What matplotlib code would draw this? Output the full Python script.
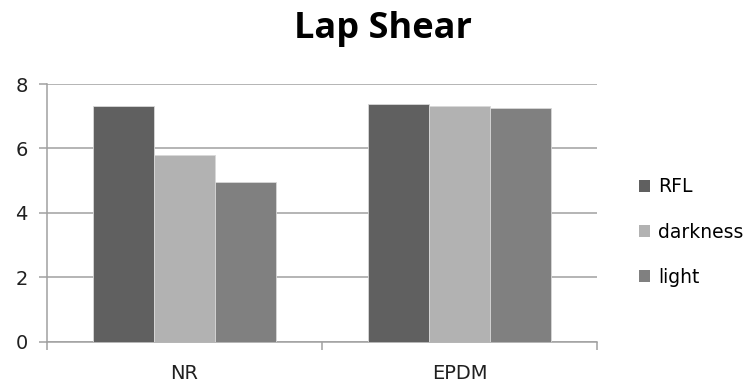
import matplotlib
matplotlib.use("Agg")
import matplotlib.pyplot as plt
import numpy as np
from matplotlib.patches import Patch

categories = ["NR", "EPDM"]
series_names = ["RFL", "darkness", "light"]
rfl = [7.32, 7.38]
darkness = [5.79, 7.32]
light = [4.97, 7.26]
colors = ["#606060", "#b2b2b2", "#808080"]
yticks = [0, 2, 4, 6, 8]

plt.rcParams["font.family"] = ["DejaVu Sans"]

fig = plt.figure(figsize=(7.51, 3.85), dpi=100)
ax = fig.add_axes([47 / 751, 1 - 341.7 / 385, 550 / 751, (341.7 - 84) / 385])

x = np.arange(len(categories))
w = 0.222
for i, (vals, name, c) in enumerate(zip([rfl, darkness, light], series_names, colors)):
    ax.bar(x + (i - 1) * w, vals, width=w, color=c, edgecolor="#d8d8d8",
           linewidth=0.6, label=name, zorder=3)

ax.set_xlim(-0.5, 1.5)
ax.set_ylim(0, 8)
ax.set_yticks(yticks)
ax.set_yticklabels([str(t) for t in yticks], fontsize=14, color="#202020")
ax.yaxis.grid(True, color="#a0a0a0", linewidth=1.1, zorder=0)
ax.tick_params(axis="y", length=6, width=1.1, color="#a0a0a0", pad=8)

ax.set_xticks(x)
ax.set_xticklabels(categories, fontsize=14, color="#202020")
ax.tick_params(axis="x", which="major", length=0, pad=16)
ax.set_xticks([-0.5, 0.5, 1.5], minor=True)
ax.tick_params(axis="x", which="minor", length=6, width=1.1, color="#a0a0a0")

for side in ["top", "right"]:
    ax.spines[side].set_visible(False)
for side in ["left", "bottom"]:
    ax.spines[side].set_color("#a0a0a0")
    ax.spines[side].set_linewidth(1.1)

fig.text(383 / 751, 1 - 29 / 385, "Lap Shear", ha="center", va="center",
         fontsize=26, fontweight="bold", color="#000000",
         family=["Open Sans", "DejaVu Sans"])

handles = [Patch(facecolor=c, edgecolor="none") for c in colors]
fig.legend(handles, series_names, loc="center left",
           bbox_to_anchor=(639 / 751, 1 - 232 / 385), frameon=False,
           fontsize=13.5, handlelength=0.6, handleheight=0.6,
           handletextpad=0.4, labelspacing=1.4, borderpad=0,
           borderaxespad=0)

fig.savefig("out.png", dpi=100)
